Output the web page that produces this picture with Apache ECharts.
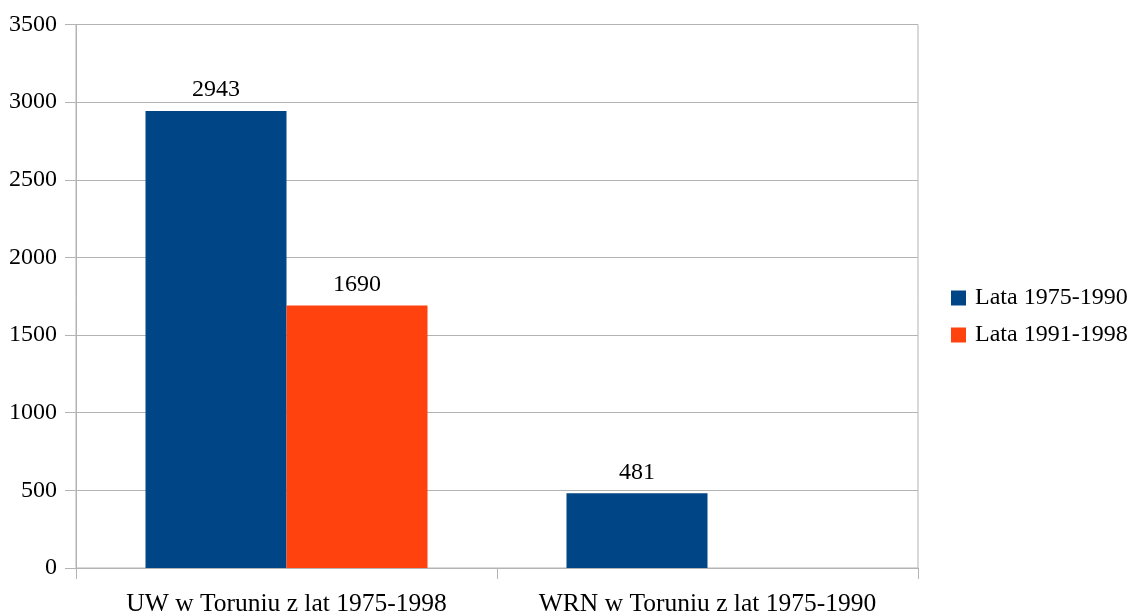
<!DOCTYPE html>
<html>
<head>
<meta charset="utf-8">
<script src="https://cdn.jsdelivr.net/npm/echarts@6/dist/echarts.min.js"></script>
<style>
  html, body { margin: 0; padding: 0; background: #fff; }
  #chart { width: 1132px; height: 612px; }
</style>
</head>
<body>
<div id="chart"></div>
<script>
// Categories and series values
const categories = ['UW w Toruniu z lat 1975-1998', 'WRN w Toruniu z lat 1975-1990'];
const seriesNames = ['Lata 1975-1990', 'Lata 1991-1998'];
const values1975_1990 = [2943, 481];
const values1991_1998 = [1690, null];
const yTicks = { min: 0, max: 3500, interval: 500 };

const FONT = '"Liberation Serif", "DejaVu Serif", serif';
const FONT_SIZE = 24;
const GRID_COLOR = '#b3b3b3';
const textStyle = { fontFamily: FONT, fontSize: FONT_SIZE, color: '#000' };

const chart = echarts.init(document.getElementById('chart'), null, { renderer: 'canvas' });

const labelCfg = {
  show: true,
  position: 'top',
  distance: 9,
  fontFamily: FONT,
  fontSize: FONT_SIZE,
  color: '#000'
};

chart.setOption({
  animation: false,
  backgroundColor: '#fff',
  grid: {
    left: 76, right: 214, top: 24.5, bottom: 44,
    outerBoundsMode: 'none',
    containLabel: false,
    show: true, borderColor: GRID_COLOR, borderWidth: 1, backgroundColor: 'transparent'
  },
  legend: {
    orient: 'vertical',
    left: 946,
    top: 281,
    itemWidth: 15,
    itemHeight: 15,
    itemGap: 13,
    icon: 'rect',
    textStyle: { fontFamily: FONT, fontSize: FONT_SIZE, color: '#000', padding: [0, 0, 0, 4] },
    data: seriesNames
  },
  xAxis: {
    type: 'category',
    data: categories,
    axisLine: { show: true, lineStyle: { color: GRID_COLOR } },
    axisTick: { show: true, length: 11, alignWithLabel: false, lineStyle: { color: GRID_COLOR } },
    axisLabel: { interval: 0, margin: 23, fontFamily: FONT, fontSize: 25.5, color: '#000' },
    splitLine: { show: false }
  },
  yAxis: {
    type: 'value',
    min: yTicks.min,
    max: yTicks.max,
    interval: yTicks.interval,
    axisLine: { show: true, lineStyle: { color: GRID_COLOR } },
    axisTick: { show: true, length: 11, lineStyle: { color: GRID_COLOR } },
    axisLabel: Object.assign({ margin: 19, formatter: (v) => String(v) }, textStyle),
    splitLine: { show: true, lineStyle: { color: GRID_COLOR, width: 1 } }
  },
  series: [
    {
      name: seriesNames[0],
      type: 'bar',
      data: values1975_1990,
      barWidth: 141,
      barGap: '0%',
      itemStyle: { color: '#004586' },
      label: labelCfg
    },
    {
      name: seriesNames[1],
      type: 'bar',
      data: values1991_1998,
      barWidth: 141,
      barGap: '0%',
      itemStyle: { color: '#ff420e' },
      label: labelCfg
    }
  ]
});
</script>
</body>
</html>
